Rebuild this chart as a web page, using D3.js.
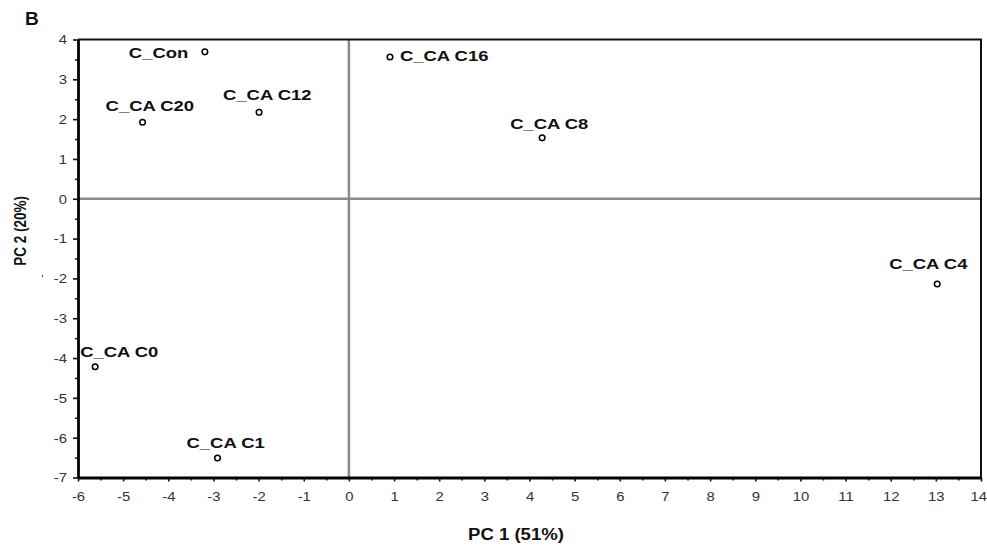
<!DOCTYPE html>
<html>
<head>
<meta charset="utf-8">
<script src="https://cdn.jsdelivr.net/npm/d3@7"></script>
<style>
  body{margin:0;background:#fff;}
  svg{display:block;font-family:Arial,"Liberation Sans",sans-serif;}
</style>
</head>
<body>
<svg width="987" height="546"></svg>
<script>
// sample names and PCA scores
let samples=['C_Con','C_CA C20','C_CA C12','C_CA C16','C_CA C8','C_CA C4','C_CA C0','C_CA C1'];
let pc1=[-3.19,-4.57,-1.99,0.91,4.28,13.03,-5.62,-2.91];
let pc2=[3.69,1.92,2.17,3.56,1.53,-2.14,-4.22,-6.51];
let xTicks=[-6,-5,-4,-3,-2,-1,0,1,2,3,4,5,6,7,8,9,10,11,12,13,14];
let yTicks=[4,3,2,1,0,-1,-2,-3,-4,-5,-6,-7];
let xTitle='PC 1 (51%)';
let yTitle='PC 2 (20%)';
let panel='B';

// where each label sits relative to its point (px): left edge / baseline
let labelDx=[-76,-37,-36,10,-32,-48,-15,-31];
let labelDy=[6,-11,-12,4,-9,-15,-10,-10];

var drawGraph=function(){
  let svg=d3.select('svg');
  let margin={top:39.5,bottom:68.5,left:78,right:6};
  let bounds=svg.node().getBoundingClientRect();
  let plotWidth=bounds.width-margin.left-margin.right;
  let plotHeight=bounds.height-margin.top-margin.bottom;
  let stretch=1.2; // the original text is a bit wide

  let xScale=d3.scaleLinear().domain([-6,14]).range([0,plotWidth]);
  let yScale=d3.scaleLinear().domain([-7,4]).range([plotHeight,0]);
  // plain hyphen for negatives, like the original
  let fmt=function(d){return String(d);};

  let plot=svg.append('g').attr('id','plot')
    .attr('transform','translate('+margin.left+','+margin.top+')');

  // zero lines
  plot.append('line')
    .attr('x1',0).attr('x2',plotWidth)
    .attr('y1',yScale(0)).attr('y2',yScale(0))
    .attr('stroke','#8a8a8a').attr('stroke-width',2.5);
  plot.append('line')
    .attr('x1',xScale(0)).attr('x2',xScale(0))
    .attr('y1',0).attr('y2',plotHeight)
    .attr('stroke','#8a8a8a').attr('stroke-width',2.5);

  // top and right frame
  plot.append('path')
    .attr('d','M0,0H'+plotWidth+'V'+plotHeight)
    .attr('fill','none').attr('stroke','#111').attr('stroke-width',2);

  // minor ticks
  let xMinor=xTicks.slice(0,-1).map(function(d){return d+0.5;});
  let yMinor=yTicks.slice(1).map(function(d){return d+0.5;});
  plot.append('g').attr('transform','translate(0,'+plotHeight+')')
    .call(d3.axisBottom(xScale).tickValues(xMinor).tickSize(3).tickFormat(''))
    .call(function(g){g.select('.domain').remove();})
    .selectAll('line').attr('stroke','#111').attr('stroke-width',1.5);
  plot.append('g')
    .call(d3.axisLeft(yScale).tickValues(yMinor).tickSize(3).tickFormat(''))
    .call(function(g){g.select('.domain').remove();})
    .selectAll('line').attr('stroke','#111').attr('stroke-width',1.5);

  // main axes
  let xGroup=plot.append('g').attr('id','x-axis')
    .attr('transform','translate(0,'+plotHeight+')')
    .call(d3.axisBottom(xScale).tickValues(xTicks).tickFormat(fmt).tickSize(4).tickPadding(10).tickSizeOuter(0));
  let yGroup=plot.append('g').attr('id','y-axis')
    .call(d3.axisLeft(yScale).tickValues(yTicks).tickFormat(fmt).tickSize(5).tickPadding(6).tickSizeOuter(0));

  [xGroup,yGroup].forEach(function(g){
    g.select('.domain').attr('stroke','#000').attr('stroke-width',2.8);
    g.selectAll('.tick line').attr('stroke','#111').attr('stroke-width',1.6);
    g.selectAll('.tick text')
      .attr('font-size','13.5px')
      .attr('font-family','Arial,"Liberation Sans",sans-serif')
      .attr('fill','#333');
  });
  xGroup.selectAll('.tick text').attr('transform','scale(1.1,1)');
  // last x label sits against the page edge
  xGroup.selectAll('.tick text')
    .filter(function(d){return d===xTicks[xTicks.length-1];})
    .attr('text-anchor','end')
    .attr('x',5);
  yGroup.selectAll('.tick text').each(function(){
    let t=d3.select(this);
    let x=+t.attr('x');
    t.attr('x',x/1.1).attr('transform','scale(1.1,1)');
  });

  // points
  let points=samples.map(function(s,i){return {name:s,x:pc1[i],y:pc2[i],dx:labelDx[i],dy:labelDy[i]};});
  plot.selectAll('circle.pt')
    .data(points)
    .enter().append('circle')
    .attr('class','pt')
    .attr('cx',function(d){return xScale(d.x);})
    .attr('cy',function(d){return yScale(d.y);})
    .attr('r',2.8)
    .attr('fill','#fff')
    .attr('stroke','#000')
    .attr('stroke-width',1.5);

  plot.selectAll('text.label')
    .data(points)
    .enter().append('text')
    .attr('class','label')
    .attr('transform',function(d){
      return 'translate('+(xScale(d.x)+d.dx)+','+(yScale(d.y)+d.dy)+')scale(1.23,1)';
    })
    .attr('font-size','15px')
    .attr('font-weight','bold')
    .attr('fill','#111')
    .text(function(d){return d.name;});

  // titles
  svg.append('text')
    .attr('transform','translate('+(margin.left+plotWidth*0.485)+',540)scale(1.16,1)')
    .attr('text-anchor','middle')
    .attr('font-size','16px')
    .attr('font-weight','bold')
    .attr('fill','#111')
    .text(xTitle);
  svg.append('text')
    .attr('transform','translate(26,231)scale('+stretch+',1)rotate(-90)')
    .attr('text-anchor','middle')
    .attr('font-size','13.5px')
    .attr('font-weight','bold')
    .attr('fill','#111')
    .text(yTitle);
  svg.append('text')
    .attr('transform','translate(45,276)rotate(-90)')
    .attr('text-anchor','middle')
    .attr('font-size','10px')
    .attr('fill','#333')
    .text('-');
  svg.append('text')
    .attr('x',25).attr('y',25)
    .attr('font-size','19px')
    .attr('font-weight','bold')
    .attr('fill','#111')
    .text(panel);
};

drawGraph();
</script>
</body>
</html>
